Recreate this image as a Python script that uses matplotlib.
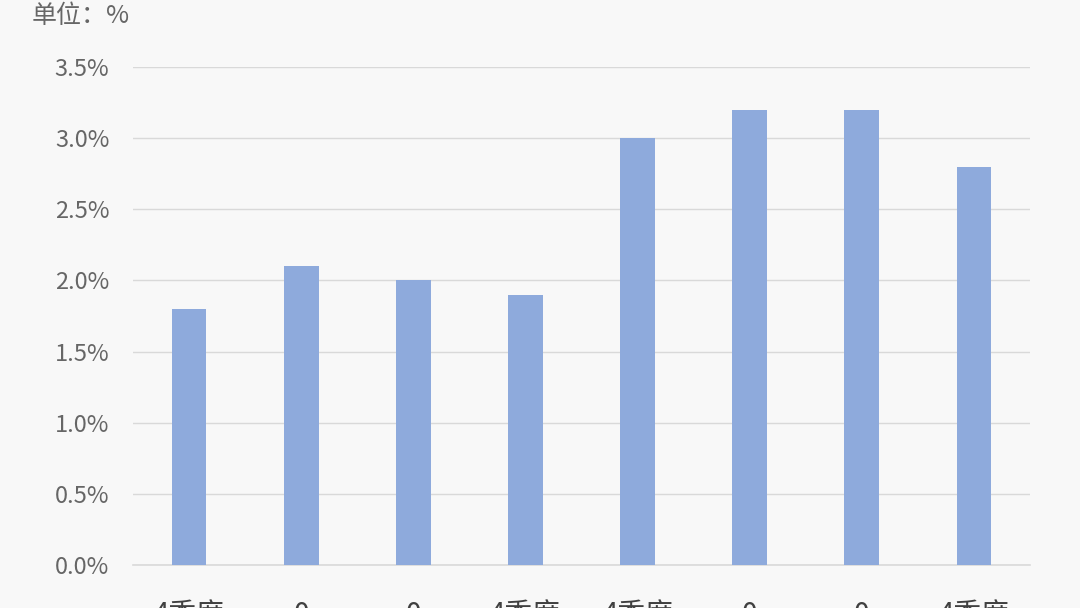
import matplotlib.pyplot as plt
from matplotlib.ticker import FuncFormatter

plt.rcParams['font.family'] = ['Noto Sans CJK SC', 'DejaVu Sans']

# labels are cut off at the bottom edge of the original image
categories = ['4季度', '0', '0', '4季度', '4季度', '0', '0', '4季度']
values = [1.8, 2.1, 2.0, 1.9, 3.0, 3.2, 3.2, 2.8]
yticks = [0.0, 0.5, 1.0, 1.5, 2.0, 2.5, 3.0, 3.5]

BG = '#f8f8f8'
fig = plt.figure(figsize=(10.8, 6.08), dpi=100, facecolor=BG)
ax = fig.add_axes([133/1080, 1 - 565/608, 897/1080, 498/608], facecolor=BG)

x = range(len(values))
ax.bar(x, values, width=0.31, color='#8eaadc', zorder=3)

ax.set_xlim(-0.5, len(values) - 0.5)
ax.set_ylim(0, 3.5)
ax.set_yticks(yticks)
ax.yaxis.set_major_formatter(FuncFormatter(lambda v, p: '%.1f%%' % v))
ax.grid(axis='y', color='#d9d9d9', linewidth=1, zorder=0)
for s in ['top', 'right', 'left']:
    ax.spines[s].set_visible(False)
ax.spines['bottom'].set_color('#d9d9d9')
ax.spines['bottom'].set_linewidth(1.2)
ax.tick_params(axis='y', length=0, labelsize=17, labelcolor='#666666', pad=17)
ax.tick_params(axis='x', length=0)
ax.set_xticks(list(x))
ax.set_xticklabels(categories, fontsize=20, color='#404040')
ax.tick_params(axis='x', pad=25)

fig.text(32/1080, 1 - 16/608, '单位：%', fontsize=18, color='#666666',
         va='center', ha='left')

fig.savefig('out.png', dpi=100, facecolor=BG)
